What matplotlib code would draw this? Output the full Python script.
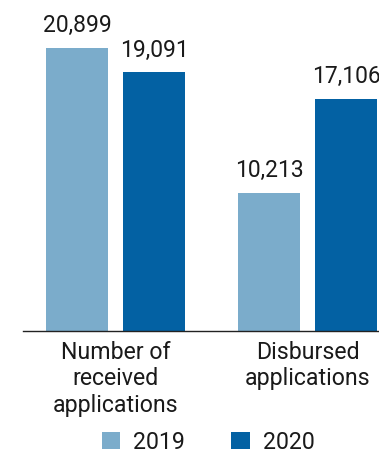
import matplotlib.pyplot as plt
import numpy as np

plt.rcParams['font.family'] = ['Roboto', 'DejaVu Sans']

categories = ["Number of\nreceived\napplications", "Disbursed\napplications"]
years = ["2019", "2020"]
values_2019 = [20899, 10213]
values_2020 = [19091, 17106]

c2019 = "#7BACCB"
c2020 = "#0361A3"
txt = "#1a1a1a"

fig = plt.figure(figsize=(3.79, 4.51), dpi=100)
ax = fig.add_axes([23 / 379, 1 - 331 / 451, 1 - 23 / 379, 331 / 451])

x = np.arange(len(categories))
off = 0.2005
w = 0.323
b1 = ax.bar(x - off, values_2019, w, color=c2019, label=years[0])
b2 = ax.bar(x + off, values_2020, w, color=c2020, label=years[1])

for bars, vals in ((b1, values_2019), (b2, values_2020)):
    for b, v in zip(bars, vals):
        ax.annotate(f"{v:,}", (b.get_x() + b.get_width() / 2, v),
                    xytext=(0, 11.5), textcoords="offset points",
                    ha="center", va="baseline", fontsize=16.5, color=txt)

ax.set_xlim(-0.482, 1.372)
ax.set_ylim(0, 24443)
ax.set_xticks(x)
ax.set_xticklabels(categories, fontsize=16.7, color=txt, linespacing=1.2)
ax.tick_params(axis="x", length=0, pad=7)
ax.set_yticks([])
for s in ("top", "left", "right"):
    ax.spines[s].set_visible(False)
ax.spines["bottom"].set_color("#222222")
ax.spines["bottom"].set_linewidth(1.0)

fig.legend(handles=[b1, b2], loc="lower center", bbox_to_anchor=(208 / 379, -0.052),
           ncol=2, frameon=False, fontsize=16.7, handlelength=0.8, handleheight=0.8,
           handletextpad=0.55, columnspacing=2.0, labelcolor=txt)

fig.savefig("out.png", dpi=100)
